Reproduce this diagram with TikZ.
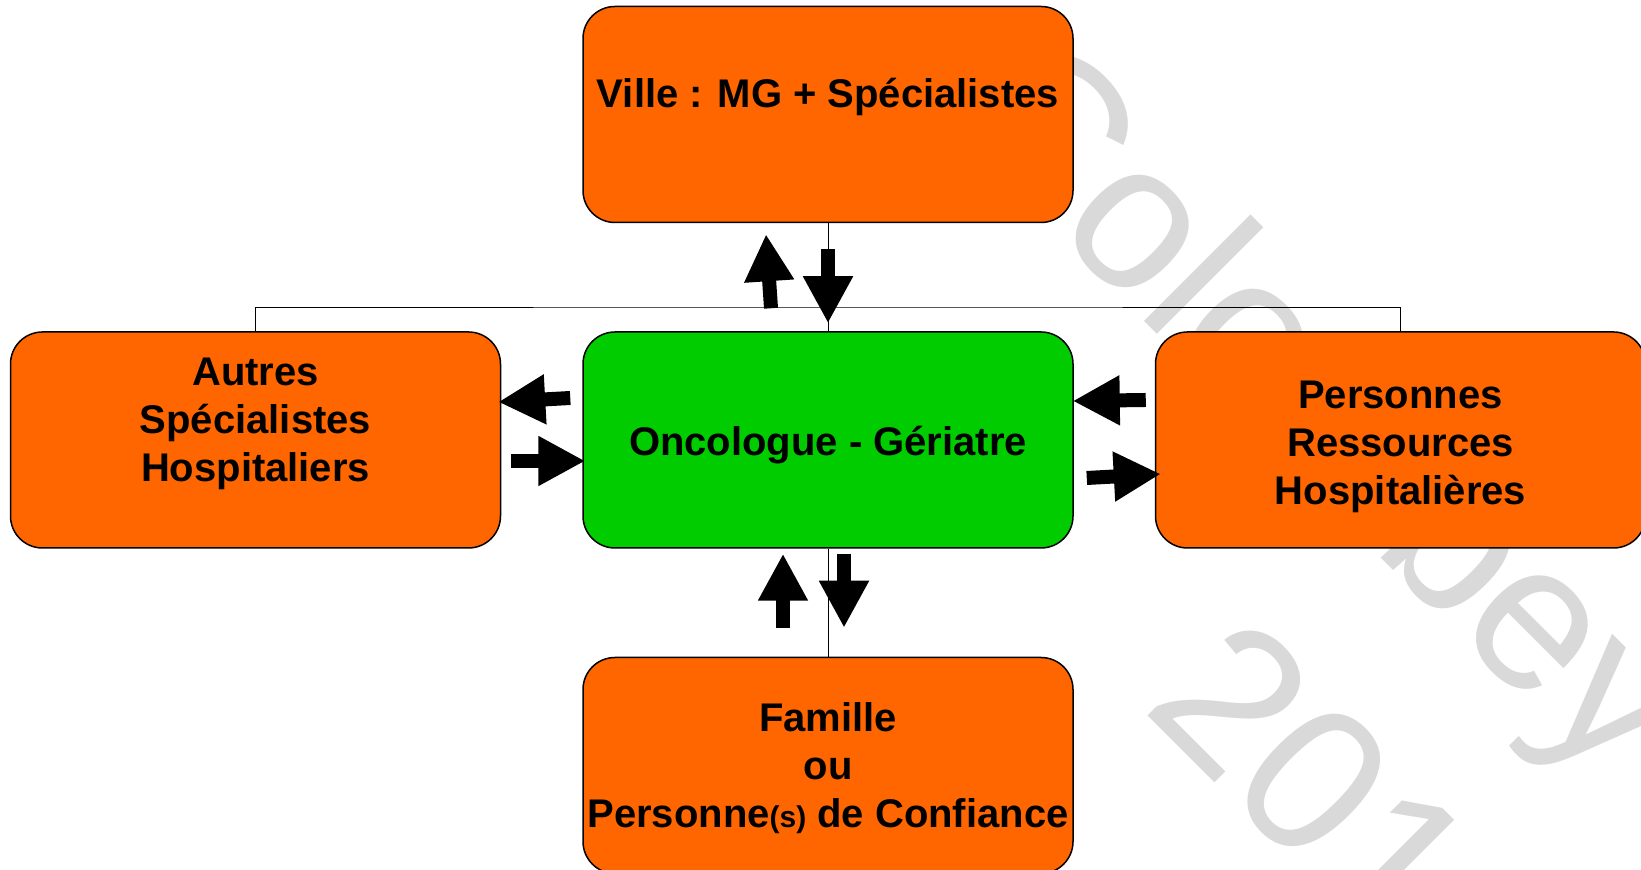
\documentclass[tikz,border=0pt]{standalone}
\usepackage{fontspec}
\setmainfont{Liberation Sans}
\usetikzlibrary{positioning,calc,arrows.meta}
\definecolor{orangebox}{HTML}{FF6600}
\definecolor{vertbox}{HTML}{00CC00}
\definecolor{filigrane}{HTML}{D9D9D9}
\newcommand{\monte}[1]{\rule{0pt}{#1}}
\begin{document}
\begin{tikzpicture}[x=0.5pt, y=0.5pt, node distance={54pt and 40.5pt},
  main/.style = {draw, line width=0.75pt, rounded corners=16pt, fill=orangebox, minimum width=245pt, minimum height=108pt, inner sep=1pt, align=center, font=\fontsize{20}{24}\selectfont\bfseries},
  marque/.style = {rotate=-45, anchor=base west, inner sep=0pt, text=filigrane, font=\fontsize{104}{120}\selectfont},
  fleche/.style = {line width=7pt, -{Triangle[length=23.5pt, width=23.5pt]}},
  lien/.style = {line width=0.5pt}]
\useasboundingbox (0,0) rectangle (1641,870);
% filigrane
\node[marque] (wm1) at (946,747) {Colombey};
\node[marque] (wm2) at (1140,162) {201};
% boites
\node[main, fill=vertbox] (onco) at (828,430) {\monte{19.7pt}Oncologue - Gériatre};
\node[main] (ville) [above=of onco] {\monte{16.7pt}Ville : MG + Spécialistes\\\mbox{}};
\node[main] (autres) [left=of onco] {\monte{17.3pt}Autres\\Spécialistes\\Hospitaliers\\\mbox{}};
\node[main] (perso) [right=of onco] {\monte{21pt}Personnes\\Ressources\\Hospitalières};
\node[main] (famille) [below=of onco] {\monte{17.3pt}Famille\\ou\\Personne{\fontsize{15}{24}\selectfont(s)} de Confiance};
% liens
\coordinate (bus) at (828,562);
\draw[lien] (ville.south) -- (onco.north);
\draw[lien] (autres.north) |- (bus) -| (perso.north);
\draw[lien] (onco.south) -- (famille.north);
% fleches
\draw[fleche] ($(onco.north)+(-57,23)$) -- ($(ville.south)+(-62,-11)$);
\draw[fleche] ($(ville.south)+(0,-26)$) -- ($(onco.north)+(0,8)$);
\draw[fleche] ($(onco.west)+(-12,42)$) -- ($(autres.east)+(-3,38)$);
\draw[fleche] ($(autres.east)+(10,-21)$) -- ($(onco.west)+(3,-21)$);
\draw[fleche] ($(perso.west)+(-9,40)$) -- ($(onco.east)+(-1,39)$);
\draw[fleche] ($(onco.east)+(13,-38)$) -- ($(perso.west)+(6,-34)$);
\draw[fleche] ($(famille.north)+(-45,29)$) -- ($(onco.south)+(-45,-5)$);
\draw[fleche] ($(onco.south)+(16,-5)$) -- ($(famille.north)+(16,29)$);
\end{tikzpicture}
\end{document}
